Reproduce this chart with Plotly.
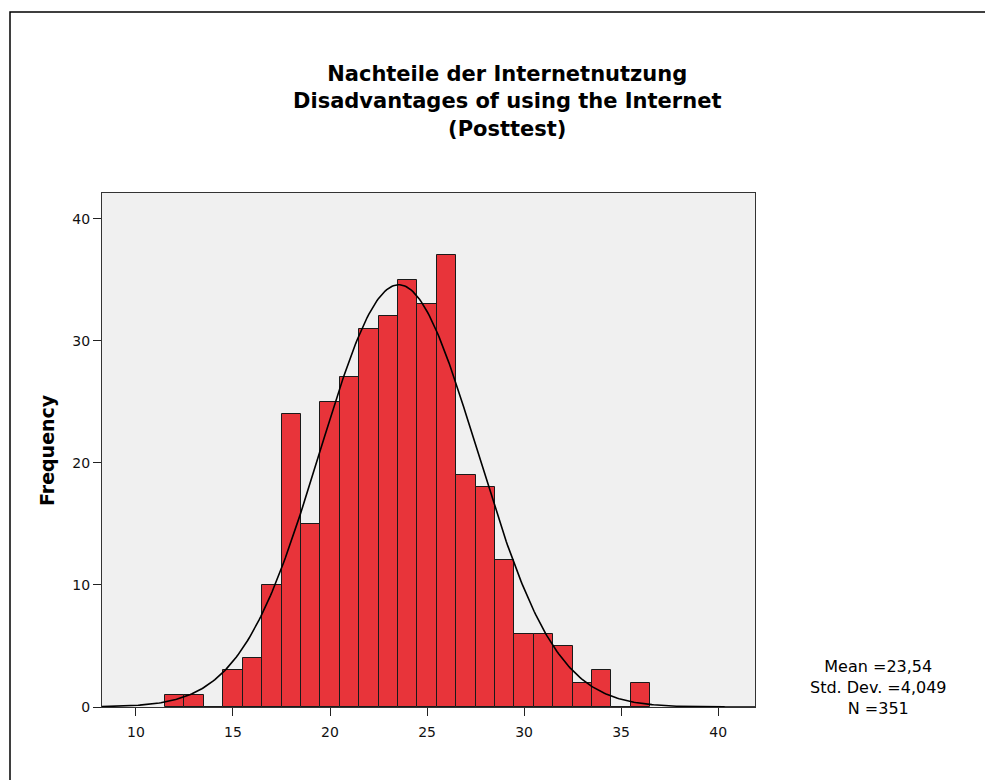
import numpy as np
import plotly.graph_objects as go

# Data
score = [12, 13, 14, 15, 16, 17, 18, 19, 20, 21, 22, 23, 24, 25, 26, 27, 28, 29, 30, 31, 32, 33, 34, 35, 36]
frequency = [1, 1, 0, 3, 4, 10, 24, 15, 25, 27, 31, 32, 35, 33, 37, 19, 18, 12, 6, 6, 5, 2, 3, 0, 2]
mean_val = 23.54
sd_val = 4.049
n_val = 351
x_ticks = [10, 15, 20, 25, 30, 35, 40]
y_ticks = [0, 10, 20, 30, 40]

OFF = 8  # page body margin
W, H = 993 - OFF, 780 - OFF
# plot area in reference-screenshot pixels
L, R, T, B = 102, 755, 193, 707
Lf, Rf, Tf, Bf = L - OFF, R - OFF, T - OFF, B - OFF

xr = [8.25, 41.9]
yr = [0, 42.1]

# fitted normal curve (from displayed mean, sd and N, bin width 1)
xc = np.linspace(xr[0], xr[1], 400)
yc = n_val * np.exp(-0.5 * ((xc - mean_val) / sd_val) ** 2) / (sd_val * np.sqrt(2 * np.pi))

fig = go.Figure()
fig.add_trace(go.Bar(x=score, y=frequency, width=1,
                     marker=dict(color="#E8343A", line=dict(color="#1a1a1a", width=1)),
                     hoverinfo="x+y"))
fig.add_trace(go.Scatter(x=xc, y=yc, mode="lines", line=dict(color="black", width=1.6),
                         hoverinfo="skip"))

def px2x(px):
    return (px - L) / (R - L)

def py2y(py):
    return (B - py) / (B - T)

font = "DejaVu Sans, Liberation Sans, Arial, sans-serif"

fig.update_layout(
    width=W, height=H,
    margin=dict(l=Lf, r=W - Rf, t=Tf, b=H - Bf, pad=0),
    paper_bgcolor="white",
    plot_bgcolor="#F0F0F0",
    showlegend=False,
    bargap=0,
    font=dict(family=font, color="black", size=14),
    xaxis=dict(range=xr, tickvals=x_ticks, ticks="outside", ticklen=8, tickcolor="#222",
               showgrid=False, zeroline=False, showline=True, linecolor="#333", linewidth=1,
               mirror=True, tickfont=dict(size=14, color="#111"), ticklabelstandoff=4),
    yaxis=dict(range=yr, tickvals=y_ticks, ticks="outside", ticklen=8, tickcolor="#222",
               showgrid=False, zeroline=False, showline=True, linecolor="#333", linewidth=1,
               mirror=True, tickfont=dict(size=14, color="#111")),
    shapes=[dict(type="rect", xref="paper", yref="paper",
                 x0=px2x(10), x1=px2x(1010), y0=py2y(800), y1=py2y(12),
                 line=dict(color="black", width=1.5), fillcolor="rgba(0,0,0,0)", layer="below")],
    annotations=[
        dict(xref="paper", yref="paper", x=px2x(507), y=py2y(60), xanchor="center", yanchor="top",
             text="<b>Nachteile der Internetnutzung<br>Disadvantages of using the Internet<br>(Posttest)</b>",
             showarrow=False, font=dict(size=21, family=font), align="center"),
        dict(xref="paper", yref="paper", x=px2x(47), y=py2y(450), xanchor="center", yanchor="middle",
             text="<b>Frequency</b>", textangle=-90,
             showarrow=False, font=dict(size=19, family=font)),
        dict(xref="paper", yref="paper", x=px2x(878), y=py2y(655), xanchor="center", yanchor="top",
             text="Mean =23,54<br>Std. Dev. =4,049<br>N =351",
             showarrow=False, font=dict(size=16, family=font), align="center"),
    ],
)

fig.write_html("out.html")
